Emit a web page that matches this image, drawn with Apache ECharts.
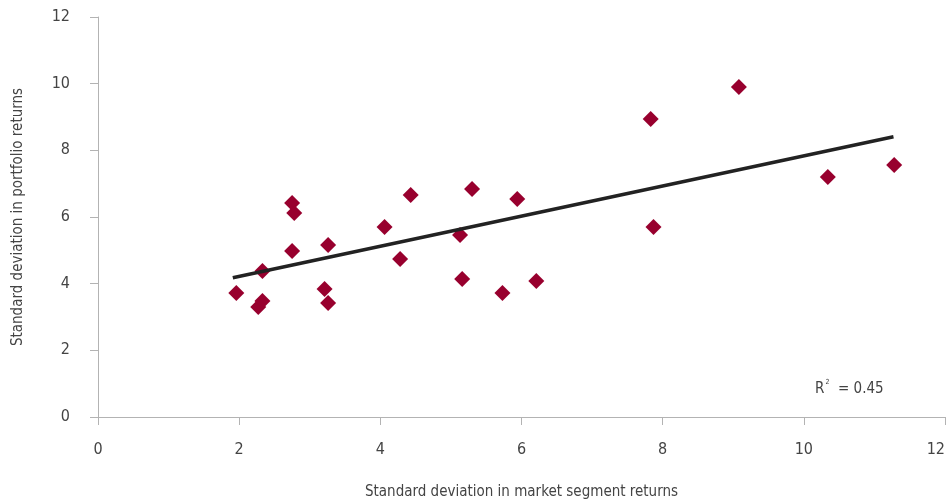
<!DOCTYPE html>
<html>
<head>
<meta charset="utf-8">
<script src="https://cdn.jsdelivr.net/npm/echarts@6/dist/echarts.min.js"></script>
<style>html,body{margin:0;padding:0;background:#fff}#c{width:950px;height:502px}</style>
</head>
<body>
<div id="c"></div>
<script>
const marketSD = [1.96,2.27,2.33,2.33,2.75,2.78,2.75,3.21,3.26,3.26,4.06,4.28,4.43,5.13,5.16,5.30,5.73,5.94,6.21,7.83,7.87,9.08,10.34,11.28];
const portfolioSD = [3.72,3.30,3.48,4.38,6.42,6.12,4.98,3.84,3.42,5.16,5.70,4.74,6.66,5.46,4.14,6.84,3.72,6.54,4.08,8.94,5.70,9.90,7.20,7.56];
const trendX = [1.91, 11.27];
const trendY = [4.18, 8.41];
const xTitle = 'Standard deviation in market segment returns';
const yTitle = 'Standard deviation in portfolio returns';
const rSquared = '0.45';

const font = '"DejaVu Sans Condensed", "Liberation Sans Narrow", sans-serif';
const txt = '#444';
const axisCol = '#b3b3b3';

const chart = echarts.init(document.getElementById('c'), null, {renderer: 'canvas'});
chart.setOption({
  animation: false,
  grid: {left: 98, right: 5, top: 17, bottom: 85, containLabel: false, outerBoundsMode: 'none'},
  xAxis: {
    type: 'value', min: 0, max: 12, interval: 2,
    name: xTitle, nameLocation: 'middle', nameGap: 68,
    nameTextStyle: {fontFamily: font, fontSize: 15, color: txt},
    axisLine: {show: true, onZero: false, lineStyle: {color: axisCol, width: 1}},
    axisTick: {show: true, inside: false, length: 8, lineStyle: {color: axisCol}},
    axisLabel: {fontFamily: font, fontSize: 16, color: txt, margin: 25, showMaxLabel: true, alignMaxLabel: 'right'},
    splitLine: {show: false}
  },
  yAxis: {
    type: 'value', min: 0, max: 12, interval: 2,
    name: yTitle, nameLocation: 'middle', nameGap: 72, nameRotate: 90,
    nameTextStyle: {fontFamily: font, fontSize: 15, color: txt},
    axisLine: {show: true, onZero: false, lineStyle: {color: axisCol, width: 1}},
    axisTick: {show: true, inside: false, length: 8, lineStyle: {color: axisCol}},
    axisLabel: {fontFamily: font, fontSize: 16, color: txt, margin: 28},
    splitLine: {show: false}
  },
  series: [
    {
      type: 'scatter',
      symbol: 'diamond',
      symbolSize: [16, 16],
      itemStyle: {color: '#98002E', opacity: 1},
      data: marketSD.map((x, i) => [x, portfolioSD[i]]),
      z: 2
    },
    {
      type: 'line',
      symbol: 'none',
      lineStyle: {color: '#222', width: 3.5},
      data: trendX.map((x, i) => [x, trendY[i]]),
      z: 3
    }
  ],
  graphic: [{
    type: 'text',
    left: 815, top: 379,
    style: {
      text: '{r|R}{s|2}{r|  = ' + rSquared + '}',
      rich: {
        r: {fontFamily: font, fontSize: 15, fill: txt, lineHeight: 20},
        s: {fontFamily: font, fontSize: 7, fill: txt, verticalAlign: 'top', lineHeight: 20, padding: [0,0,8,1]}
      }
    }
  }]
});
</script>
</body>
</html>
